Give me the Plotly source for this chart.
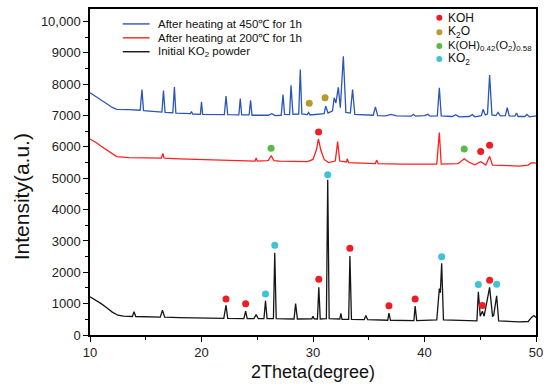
import plotly.graph_objects as go

# ---------------- data ----------------
# Initial KO2 powder (black)
black_x = [10.0, 10.5, 11.0, 11.5, 12.0, 12.5, 13.0, 13.8, 13.95, 14.1, 15.0, 16.3, 16.5, 16.7,
           18.0, 20.0, 22.0, 22.2, 22.35, 23.8, 23.96, 24.1, 24.7, 24.9, 25.1, 25.6, 25.74, 25.88,
           26.45, 26.57, 26.7, 28.3, 28.44, 28.6, 29.9, 30.0, 30.1, 30.4, 30.52, 30.65, 31.2, 31.32,
           31.45, 32.4, 32.5, 32.6, 33.2, 33.31, 33.45, 34.6, 34.74, 34.9, 36.7, 36.81, 36.95, 39.05,
           39.16, 39.3, 41.1, 41.33, 41.42, 41.54, 41.7, 44.7, 44.83, 45.0, 45.19, 45.35, 45.84, 46.1,
           46.2, 46.47, 46.65, 48.5, 49.3, 49.6, 49.8, 50.0]
black_y = [1220, 1120, 1000, 870, 730, 630, 600, 590, 740, 590, 580, 570, 790, 570,
           555, 545, 530, 950, 530, 520, 760, 520, 525, 650, 520, 520, 1090, 520,
           520, 2620, 520, 510, 1000, 510, 515, 600, 515, 510, 1520, 510, 520, 4950,
           520, 510, 690, 500, 500, 2520, 500, 490, 620, 490, 470, 700, 470, 460,
           920, 460, 480, 1480, 1350, 2290, 480, 450, 1380, 600, 760, 600, 1520, 600,
           620, 1250, 450, 420, 430, 560, 620, 560]

# After heating at 200 C (red)
red_x = [10.0, 10.5, 11.0, 11.5, 12.0, 12.4, 13.5, 15.0, 16.4, 16.53, 16.65, 18.0, 20.0, 22.0,
         24.0, 24.8, 24.9, 25.0, 25.9, 26.0, 26.24, 26.5, 27.0, 29.5, 30.0, 30.3, 30.49, 30.7,
         31.0, 31.4, 32.0, 32.21, 32.4, 33.0, 33.07, 33.2, 35.6, 35.7, 35.85, 38.0, 41.1, 41.33,
         41.5, 43.0, 43.2, 43.56, 44.0, 44.5, 45.04, 45.5, 45.84, 46.1, 48.5, 49.3, 49.6, 50.0]
red_y = [6250, 6150, 6020, 5900, 5760, 5690, 5660, 5650, 5640, 5790, 5640, 5620, 5600, 5580,
         5560, 5550, 5650, 5550, 5560, 5570, 5720, 5560, 5550, 5530, 5600, 5900, 6260, 5900,
         5600, 5500, 5550, 6170, 5550, 5520, 5620, 5500, 5470, 5580, 5470, 5450, 5450, 6460,
         5450, 5470, 5520, 5620, 5510, 5430, 5530, 5420, 5700, 5420, 5390, 5420, 5500, 5480]

# After heating at 450 C (blue)
blue_x = [10.0, 10.5, 11.0, 11.5, 12.0, 12.4, 13.5, 14.5, 14.66, 14.8, 16.45, 16.59, 16.73, 17.43,
          17.57, 17.7, 19.0, 19.1, 19.2, 19.9, 20.0, 20.1, 22.05, 22.2, 22.35, 23.35, 23.48, 23.6,
          24.27, 24.4, 24.53, 26.0, 26.3, 26.6, 27.15, 27.31, 27.45, 27.9, 28.03, 28.2, 28.72, 28.86,
          29.0, 29.5, 29.6, 29.75, 31.0, 31.14, 31.35, 31.75, 31.9, 32.05, 32.27, 32.45, 32.72, 32.95,
          33.35, 33.55, 33.75, 35.4, 35.6, 35.8, 36.5, 37.0, 37.5, 38.8, 39.0, 39.2, 40.0, 40.3,
          40.5, 41.15, 41.33, 41.5, 42.5, 42.8, 43.1, 44.0, 44.3, 44.5, 45.1, 45.25, 45.45, 45.65,
          45.84, 46.05, 46.4, 46.6, 46.8, 47.25, 47.42, 47.6, 48.1, 48.25, 48.4, 49.0, 49.2, 49.4, 50.0]
blue_y = [7730, 7620, 7500, 7380, 7260, 7200, 7190, 7170, 7830, 7160, 7110, 7800, 7100, 7090,
          7910, 7080, 7060, 7130, 7050, 7040, 7440, 7040, 7030, 7620, 7030, 7020, 7540, 7020,
          7020, 7490, 7010, 7010, 7060, 7000, 7010, 7670, 7040, 7030, 7970, 7040, 7050, 8470,
          7050, 7030, 7100, 7020, 7060, 7300, 7080, 7150, 7570, 7400, 7900, 7250, 8890, 7100,
          7080, 7830, 7040, 7010, 7280, 7000, 6990, 7040, 6990, 6980, 7040, 6980, 7000, 7040,
          6980, 6990, 7890, 6990, 6970, 7030, 6960, 6970, 7030, 6960, 7000, 7200, 7020, 7050,
          8290, 7020, 7000, 7100, 6990, 7000, 7250, 6990, 6980, 7080, 6970, 6970, 7040, 6960, 6990]

# Phase markers
koh_x = [22.2, 23.96, 30.52, 33.31, 36.81, 39.16, 45.19, 45.84, 30.5, 45.04, 45.84]
koh_y = [1150, 1000, 1780, 2770, 930, 1150, 940, 1750, 6480, 5850, 6050]
k2o_x = [29.66, 31.08]
k2o_y = [7390, 7570]
kohx_x = [26.24, 43.56]
kohx_y = [5960, 5930]
ko2_x = [25.74, 26.57, 31.32, 41.54, 44.83, 46.47]
ko2_y = [1310, 2860, 5110, 2500, 1610, 1620]

y_ticks = [0, 1000, 2000, 3000, 4000, 5000, 6000, 7000, 8000, 9000, 10000]
y_ticktext = ["0", "1000", "2000", "3000", "4000", "5000", "6000", "7000", "8000", "9000", "10,000"]
x_ticks = [10, 20, 30, 40, 50]

SUB = "<sub>{}</sub>"
line_names = ["After heating at 450℃ for 1h", "After heating at 200℃ for 1h",
              "Initial KO" + SUB.format("2") + " powder"]
dot_names = ["KOH", "K" + SUB.format("2") + "O",
             "K(OH)" + SUB.format("0.42") + "(O" + SUB.format("2") + ")" + SUB.format("0.58"),
             "KO" + SUB.format("2")]
dot_sizes = [12, 12, 11.3, 12]

# ---------------- styling ----------------
BLUE = "#2b55b8"
RED = "#ff1f1f"
BLACK = "#151515"
C_KOH = "#ee1d23"
C_K2O = "#b8992c"
C_KOHX = "#5cb848"
C_KO2 = "#3fc3d3"
FONT = "Arial, Liberation Sans, sans-serif"

W, H = 550, 391
L, R, T, B = 90, 11, 7, 56
PW, PH = W - L - R, H - T - B


def px2x(px):
    return (px - L) / PW


def py2y(py):
    return (H - B - py) / PH


fig = go.Figure()
for xs, ys, c in [(blue_x, blue_y, BLUE), (red_x, red_y, RED), (black_x, black_y, BLACK)]:
    fig.add_trace(go.Scatter(x=xs, y=ys, mode="lines", line=dict(color=c, width=1.3),
                             showlegend=False, hoverinfo="skip"))

for xs, ys, c in [(koh_x, koh_y, C_KOH), (k2o_x, k2o_y, C_K2O), (kohx_x, kohx_y, C_KOHX),
                  (ko2_x, ko2_y, C_KO2)]:
    fig.add_trace(go.Scatter(x=xs, y=ys, mode="markers", marker=dict(color=c, size=7),
                             showlegend=False, hoverinfo="skip"))

# manual legend (left): line samples + labels
left_rows = [22, 36, 50]
for name, c, py in zip(line_names, [BLUE, RED, BLACK], left_rows):
    fig.add_shape(type="line", xref="paper", yref="paper", x0=px2x(123), x1=px2x(150),
                  y0=py2y(py), y1=py2y(py), line=dict(color=c, width=1.4))
    fig.add_annotation(xref="paper", yref="paper", x=px2x(156), y=py2y(py), text=name,
                       showarrow=False, xanchor="left", yanchor="middle",
                       font=dict(family=FONT, size=11.5, color="#111"))

# manual legend (right): dots + labels
right_rows = [15.7, 30.5, 44.3, 57.3]
for name, c, py, fs in zip(dot_names, [C_KOH, C_K2O, C_KOHX, C_KO2], right_rows, dot_sizes):
    fig.add_shape(type="circle", xref="paper", yref="paper", xsizemode="pixel", ysizemode="pixel",
                  xanchor=px2x(441.7), yanchor=py2y(py), x0=-3, x1=3, y0=-3, y1=3,
                  fillcolor=c, line=dict(width=0))
    fig.add_annotation(xref="paper", yref="paper", x=px2x(448), y=py2y(py), text=name,
                       showarrow=False, xanchor="left", yanchor="middle",
                       font=dict(family=FONT, size=fs, color="#111"))

# y-axis title
fig.add_annotation(xref="paper", yref="paper", x=px2x(21), y=py2y(196), text="Intensity(a.u.)",
                   textangle=-90, showarrow=False, xanchor="center", yanchor="middle",
                   font=dict(family=FONT, size=21, color="#111"))

axis_common = dict(showline=True, linecolor="black", linewidth=1.5, mirror=True,
                   ticks="outside", ticklen=5, tickwidth=1.3, tickcolor="black",
                   showgrid=False, zeroline=False,
                   tickfont=dict(family=FONT, size=13, color="#222"))

fig.update_xaxes(range=[10, 50], tickvals=x_ticks, **axis_common,
                 minor=dict(dtick=5, ticks="outside", ticklen=3, tickcolor="black", tickwidth=1.2),
                 title=dict(text="2Theta(degree)", font=dict(family=FONT, size=18, color="#111"),
                            standoff=6))
fig.update_yaxes(range=[0, 10400], tickvals=y_ticks, ticktext=y_ticktext, **axis_common,
                 minor=dict(dtick=500, ticks="outside", ticklen=3, tickcolor="black", tickwidth=1.2))

fig.update_layout(width=W, height=H, margin=dict(l=L, r=R, t=T, b=B),
                  paper_bgcolor="white", plot_bgcolor="white", showlegend=False)

fig.write_html("out.html", config={"displayModeBar": False},
               post_script="document.body.style.margin='0';document.body.style.overflow='hidden';")
